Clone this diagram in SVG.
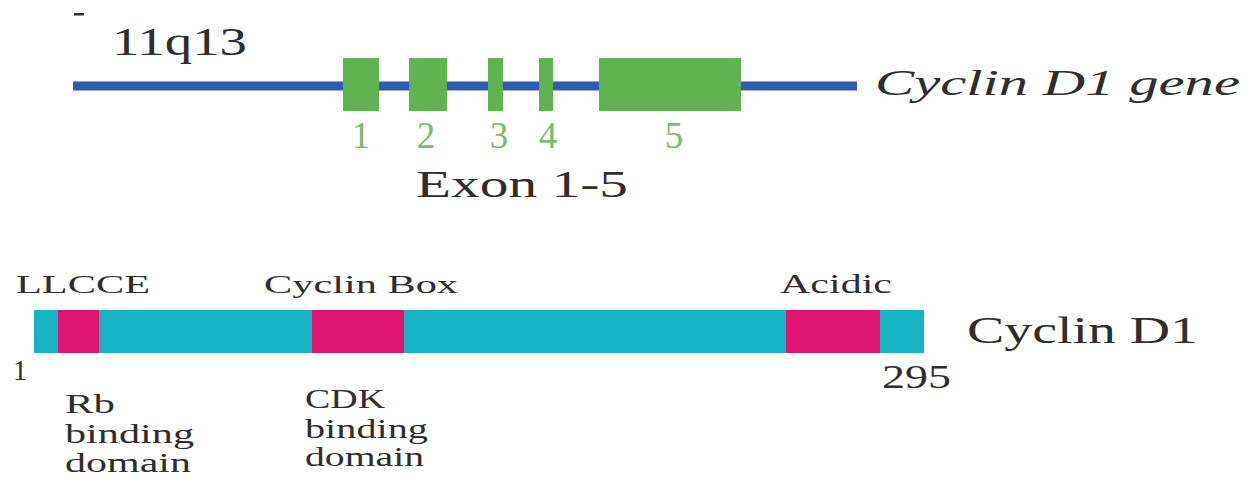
<svg xmlns="http://www.w3.org/2000/svg" width="1259" height="479" viewBox="0 0 1259 479">
<style>
.t{font-family:"Liberation Serif","Times New Roman",serif;fill:#2e2e2e}
.d{font-family:"Liberation Serif","Times New Roman",serif;fill:#2e2e2e;font-size:27px}
.num{font-family:"Liberation Serif","Times New Roman",serif;fill:#7cba6c;text-anchor:middle;font-size:37px}
.exon{fill:#60b351}
.cyan{fill:#17b3c4}
.pink{fill:#dd1571}
</style>
<rect width="1259" height="479" fill="#ffffff"/>
<rect x="74" y="13" width="10" height="2.5" fill="#333"/>
<g id="connectors">
<line x1="73" y1="86" x2="857" y2="86" stroke="#2f5bb0" stroke-width="9"/>
</g>
<g id="locus"><text class="t" x="112" y="55" font-size="40" textLength="135" lengthAdjust="spacingAndGlyphs">11q13</text></g>
<g id="exon1"><rect class="exon" x="343" y="58" width="36" height="53"/><text class="num" x="361" y="148">1</text></g>
<g id="exon2"><rect class="exon" x="409" y="58" width="38" height="53"/><text class="num" x="426" y="148">2</text></g>
<g id="exon3"><rect class="exon" x="488" y="58" width="15" height="53"/><text class="num" x="499" y="148">3</text></g>
<g id="exon4"><rect class="exon" x="539" y="58" width="14" height="53"/><text class="num" x="548" y="148">4</text></g>
<g id="exon5"><rect class="exon" x="599" y="58" width="142" height="53"/><text class="num" x="674" y="148">5</text></g>
<g id="exon-label"><text class="t" x="416" y="197" font-size="38" textLength="212" lengthAdjust="spacingAndGlyphs">Exon 1-5</text></g>
<g id="gene-label"><text class="t" x="875" y="95" font-size="35" font-style="italic" textLength="365" lengthAdjust="spacingAndGlyphs">Cyclin D1 gene</text></g>
<g id="protein">
<rect class="cyan" x="34" y="310" width="890" height="43"/>
<rect class="pink" x="58" y="310" width="41" height="43"/>
<rect class="pink" x="312" y="310" width="92" height="43"/>
<rect class="pink" x="786" y="310" width="94" height="43"/>
</g>
<g id="protein-labels">
<text class="t" x="16" y="293" font-size="26" textLength="134" lengthAdjust="spacingAndGlyphs">LLCCE</text>
<text class="t" x="264" y="293" font-size="26" textLength="194" lengthAdjust="spacingAndGlyphs">Cyclin Box</text>
<text class="t" x="780" y="293" font-size="27" textLength="112" lengthAdjust="spacingAndGlyphs">Acidic</text>
<text class="t" x="13" y="380" font-size="30" textLength="14" lengthAdjust="spacingAndGlyphs">1</text>
<text class="t" x="882" y="388" font-size="33" textLength="69" lengthAdjust="spacingAndGlyphs">295</text>
<text class="t" x="967" y="343" font-size="37" textLength="231" lengthAdjust="spacingAndGlyphs">Cyclin D1</text>
</g>
<g id="rb-domain">
<text class="d" x="65" y="413" textLength="50" lengthAdjust="spacingAndGlyphs">Rb</text>
<text class="d" x="65" y="443" textLength="129" lengthAdjust="spacingAndGlyphs">binding</text>
<text class="d" x="65" y="472" textLength="126" lengthAdjust="spacingAndGlyphs">domain</text>
</g>
<g id="cdk-domain">
<text class="d" x="305" y="408" textLength="80" lengthAdjust="spacingAndGlyphs">CDK</text>
<text class="d" x="305" y="438" textLength="123" lengthAdjust="spacingAndGlyphs">binding</text>
<text class="d" x="305" y="466" textLength="119" lengthAdjust="spacingAndGlyphs">domain</text>
</g>
</svg>
